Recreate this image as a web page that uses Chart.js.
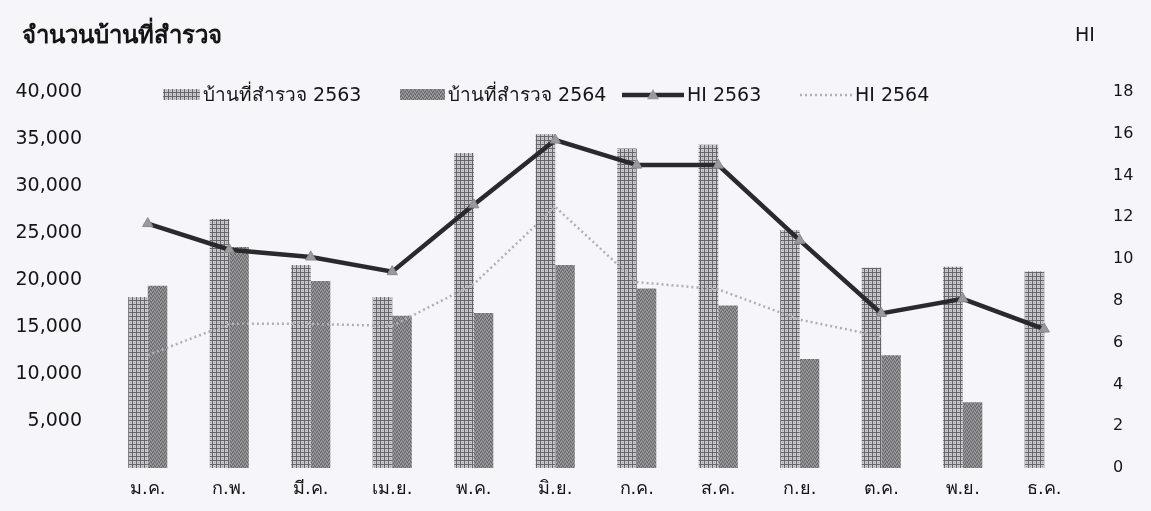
<!DOCTYPE html>
<html lang="th">
<head>
<meta charset="utf-8">
<title>จำนวนบ้านที่สำรวจ และค่า HI</title>
<script src="https://cdn.jsdelivr.net/npm/chart.js@4/dist/chart.umd.min.js"></script>
<style>
  html, body { margin: 0; padding: 0; background: #f6f6fa; }
  #wrap { width: 1151px; height: 511px; position: relative; }
</style>
</head>
<body>
<div id="wrap"><canvas id="c" width="1151" height="511"></canvas></div>
<script>
// Months (Thai abbreviations)
const months = ['ม.ค.', 'ก.พ.', 'มี.ค.', 'เม.ย.', 'พ.ค.', 'มิ.ย.', 'ก.ค.', 'ส.ค.', 'ก.ย.', 'ต.ค.', 'พ.ย.', 'ธ.ค.'];

// Houses surveyed per month
const houses2563 = [18200, 26500, 21600, 18200, 33500, 35500, 34000, 34400, 25300, 21300, 21400, 20900];
const houses2564 = [19400, 23500, 19900, 16200, 16500, 21600, 19100, 17300, 11600, 12000, 7000, null];

// House index (HI) per month
const hi2563 = [11.7, 10.45, 10.1, 9.4, 12.6, 15.7, 14.5, 14.5, 10.9, 7.4, 8.1, 6.65];
const hi2564 = [5.4, 6.9, 6.9, 6.8, 8.8, 12.5, 8.9, 8.55, 7.1, 6.3, null, null];

// Axis headings
const leftAxisTitle = 'จำนวนบ้านที่สำรวจ';
const rightAxisTitle = 'HI';

const FONT = "'DejaVu Sans', 'Noto Sans', sans-serif";
const TEXT = '#151515';

// Textured fills for the bars
function makePattern(draw, w, h) {
  const p = document.createElement('canvas');
  p.width = w; p.height = h;
  draw(p.getContext('2d'));
  return p.getContext('2d').createPattern(p, 'repeat');
}
const meshFill = makePattern(ctx => {
  ctx.fillStyle = '#cbcbcd';
  ctx.fillRect(0, 0, 4, 4);
  ctx.fillStyle = '#66666a';
  ctx.fillRect(0, 0, 4, 1);
  ctx.fillRect(0, 0, 1, 4);
  ctx.fillStyle = '#a0a0a2';
  ctx.fillRect(2, 2, 1, 1);
}, 4, 4);
const greyFill = makePattern(ctx => {
  ctx.fillStyle = '#848486';
  ctx.fillRect(0, 0, 4, 4);
  ctx.fillStyle = '#646466';
  ctx.fillRect(0, 0, 1, 1); ctx.fillRect(2, 1, 1, 1);
  ctx.fillRect(1, 3, 1, 1); ctx.fillRect(3, 2, 1, 1);
  ctx.fillStyle = '#a2a2a4';
  ctx.fillRect(1, 1, 1, 1); ctx.fillRect(3, 0, 1, 1);
  ctx.fillRect(0, 2, 1, 1); ctx.fillRect(2, 3, 1, 1);
}, 4, 4);

// Headings above both value axes
const headings = {
  id: 'headings',
  afterDraw(chart) {
    const ctx = chart.ctx;
    ctx.save();
    ctx.fillStyle = TEXT;
    ctx.textBaseline = 'middle';
    ctx.textAlign = 'left';
    ctx.font = 'bold 24px ' + FONT;
    ctx.fillText(leftAxisTitle, 22, 37);
    ctx.font = '19px ' + FONT;
    ctx.fillText(rightAxisTitle, 1075, 36);
    ctx.restore();
  }
};

// Legend drawn inside the top of the plot area
const innerLegend = {
  id: 'innerLegend',
  afterDraw(chart, args, opts) {
    const ctx = chart.ctx;
    const y = opts.y;
    ctx.save();
    ctx.font = '19px ' + FONT;
    ctx.textBaseline = 'middle';
    ctx.textAlign = 'left';
    chart.data.datasets.forEach((ds, i) => {
      const x = opts.xs[i];
      const w = opts.widths[i];
      if (ds.type === 'bar') {
        ctx.fillStyle = ds.backgroundColor;
        ctx.fillRect(x, y - 6, w, 11);
      } else {
        ctx.strokeStyle = ds.borderColor;
        ctx.lineWidth = ds.borderWidth;
        ctx.setLineDash(ds.borderDash || []);
        ctx.beginPath();
        ctx.moveTo(x, y);
        ctx.lineTo(x + w, y);
        ctx.stroke();
        ctx.setLineDash([]);
        if (ds.pointRadius > 0) {
          const cx = x + w / 2, r = ds.pointRadius;
          ctx.fillStyle = ds.pointBackgroundColor;
          ctx.beginPath();
          ctx.moveTo(cx, y - r);
          ctx.lineTo(cx + r, y + r * 0.7);
          ctx.lineTo(cx - r, y + r * 0.7);
          ctx.closePath();
          ctx.fill();
        }
      }
      ctx.fillStyle = TEXT;
      ctx.fillText(ds.label, x + w + 3, y + 1);
    });
    ctx.restore();
  }
};

new Chart(document.getElementById('c'), {
  data: {
    labels: months,
    datasets: [
      {
        type: 'bar', label: 'บ้านที่สำรวจ 2563', data: houses2563, yAxisID: 'y',
        backgroundColor: meshFill, borderWidth: 0, order: 2,
        categoryPercentage: 0.48, barPercentage: 1.0
      },
      {
        type: 'bar', label: 'บ้านที่สำรวจ 2564', data: houses2564, yAxisID: 'y',
        backgroundColor: greyFill, borderWidth: 0, order: 2,
        categoryPercentage: 0.48, barPercentage: 1.0
      },
      {
        type: 'line', label: 'HI 2563', data: hi2563, yAxisID: 'y1',
        borderColor: '#2a2a2c', borderWidth: 4.5, tension: 0,
        pointStyle: 'triangle', pointRadius: 6,
        pointBackgroundColor: '#9a9a9c', pointBorderColor: '#8a8a8c', pointBorderWidth: 1,
        order: 0
      },
      {
        type: 'line', label: 'HI 2564', data: hi2564, yAxisID: 'y1',
        borderColor: '#b0b0b3', borderWidth: 2.5, borderDash: [2, 3], tension: 0,
        pointRadius: 0, spanGaps: false, order: 1
      }
    ]
  },
  options: {
    responsive: false,
    animation: false,
    layout: { padding: { top: 92, left: 0, right: 0, bottom: 0 } },
    plugins: {
      legend: { display: false },
      tooltip: { enabled: false },
      innerLegend: { y: 95, xs: [163, 400, 622, 800], widths: [37, 45, 62, 52] }
    },
    scales: {
      x: {
        grid: { display: false, drawTicks: false },
        border: { display: false },
        ticks: { color: TEXT, font: { family: FONT, size: 18 }, padding: 11, maxRotation: 0 },
        afterFit(s) { s.height = 43; }
      },
      y: {
        position: 'left', min: 0, max: 40000,
        grid: { display: false, drawTicks: false },
        border: { display: false },
        ticks: {
          stepSize: 5000, padding: 25, color: TEXT,
          font: { family: FONT, size: 19 },
          callback: v => v === 0 ? '' : v.toLocaleString('en-US')
        },
        afterFit(s) { s.width = 107; }
      },
      y1: {
        position: 'right', min: 0, max: 18,
        grid: { display: false, drawTicks: false },
        border: { display: false },
        ticks: { stepSize: 2, padding: 28, color: TEXT, font: { family: FONT, size: 16 } },
        afterFit(s) { s.width = 66; }
      }
    }
  },
  plugins: [headings, innerLegend]
});
</script>
</body>
</html>
